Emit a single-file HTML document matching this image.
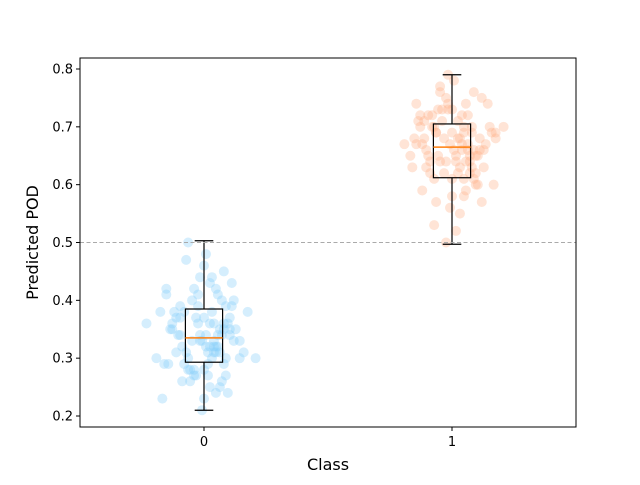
<!DOCTYPE html>
<html><head><meta charset="utf-8"><style>
body{margin:0;background:#fff}
svg text{font-family:"DejaVu Sans","Liberation Sans",sans-serif}
</style></head><body>
<svg id="chart" width="640" height="480" xmlns="http://www.w3.org/2000/svg">
<rect width="640" height="480" fill="#fff"/>
<g id="points"></g>
<g id="boxes"></g>
<g id="axes"></g>
</svg>
<script>
const categories=["0","1"];
const yTicks=[0.2,0.3,0.4,0.5,0.6,0.7,0.8];
const threshold=0.5;
const boxQ1=[0.293,0.612];
const boxMedian=[0.335,0.665];
const boxQ3=[0.385,0.705];
const whiskerLow=[0.21,0.497];
const whiskerHigh=[0.503,0.79];
const class0Values=[0.36,0.42,0.31,0.28,0.45,0.33,0.39,0.25,0.3,0.34,0.37,0.41,0.27,0.23,0.35,0.32,0.4,0.29,0.38,0.26,0.44,0.31,0.36,0.33,0.3,0.34,0.47,0.24,0.29,0.37,0.35,0.32,0.39,0.28,0.43,0.21,0.5,0.31,0.34,0.36,0.26,0.4,0.33,0.3,0.38,0.27,0.35,0.42,0.32,0.29,0.37,0.31,0.25,0.46,0.34,0.36,0.3,0.39,0.33,0.28,0.41,0.35,0.32,0.24,0.38,0.3,0.36,0.34,0.27,0.43,0.31,0.37,0.33,0.29,0.4,0.35,0.26,0.32,0.38,0.34,0.44,0.23,0.36,0.31,0.39,0.28,0.33,0.35,0.3,0.42,0.37,0.32,0.27,0.34,0.41,0.29,0.36,0.48,0.31,0.38];
const class0Jitter=[-0.29,-0.19,0.02,-0.05,0.1,0.05,-0.12,0.03,-0.08,0.13,0.0,-0.03,0.11,-0.21,-0.16,0.07,0.15,-0.1,0.04,0.09,-0.02,-0.14,0.12,-0.06,0.18,0.01,-0.09,0.06,-0.18,-0.04,0.08,-0.11,0.14,0.0,0.03,-0.01,-0.08,0.2,-0.13,0.05,-0.07,0.09,-0.02,0.11,-0.15,0.02,0.16,-0.05,0.06,-0.2,0.13,-0.09,0.08,0.0,-0.12,0.1,0.04,-0.03,0.15,-0.07,0.07,-0.17,0.01,0.12,-0.1,-0.24,0.03,0.09,-0.04,0.14,0.06,-0.14,0.18,0.02,-0.06,0.1,-0.11,0.05,0.22,-0.02,0.04,0.0,-0.16,0.08,0.11,-0.08,-0.01,0.13,0.26,0.06,-0.12,0.03,-0.05,0.07,-0.19,0.1,-0.03,0.01,0.05,-0.22];
const class1Values=[0.65,0.7,0.62,0.68,0.74,0.59,0.66,0.72,0.63,0.69,0.76,0.6,0.67,0.64,0.71,0.57,0.68,0.73,0.66,0.61,0.7,0.65,0.78,0.63,0.69,0.55,0.67,0.72,0.64,0.75,0.62,0.68,0.66,0.7,0.58,0.73,0.65,0.61,0.69,0.67,0.74,0.63,0.71,0.66,0.6,0.68,0.64,0.77,0.53,0.7,0.65,0.72,0.62,0.67,0.69,0.59,0.74,0.66,0.63,0.71,0.68,0.64,0.76,0.61,0.7,0.65,0.57,0.73,0.67,0.62,0.69,0.66,0.72,0.6,0.75,0.64,0.68,0.63,0.7,0.52,0.67,0.71,0.65,0.74,0.58,0.69,0.66,0.73,0.62,0.68,0.79,0.64,0.7,0.61,0.67,0.5,0.72,0.65,0.69,0.56];
const class1Jitter=[0.02,-0.1,0.12,-0.04,0.07,-0.15,0.05,-0.12,0.16,0.0,-0.06,0.21,-0.18,0.09,0.03,-0.08,0.14,-0.02,-0.13,0.06,0.19,-0.07,0.01,-0.2,0.1,0.04,-0.24,0.08,-0.03,0.15,-0.11,0.22,0.11,-0.16,0.0,-0.05,0.13,-0.09,0.06,-0.01,0.18,0.04,-0.14,0.08,0.12,-0.19,0.02,-0.06,-0.09,0.1,-0.12,0.05,-0.04,0.17,-0.08,0.07,-0.02,0.14,0.1,-0.17,0.03,-0.11,0.11,0.0,0.06,-0.21,0.15,-0.07,-0.15,0.09,0.2,0.01,-0.1,0.13,-0.03,-0.06,0.04,-0.13,0.26,0.02,0.08,-0.05,0.12,-0.18,0.06,-0.08,0.16,0.0,0.03,-0.14,-0.02,0.07,-0.09,0.11,0.05,-0.03,-0.16,0.09,0.22,-0.01];

const NS="http://www.w3.org/2000/svg";
const L=80,R=576,T=58,B=427;
function xs(v){return L+(v+0.5)/2*(R-L);}
function ys(v){return 416-(v-0.2)/0.6*(416-69);}
function mk(tag,attrs,parent,text){const e=document.createElementNS(NS,tag);for(const k in attrs)e.setAttribute(k,attrs[k]);if(text!==undefined)e.textContent=text;parent.appendChild(e);return e;}

const pts=document.getElementById('points');
const series=[[class0Values,class0Jitter,"#87cefa"],[class1Values,class1Jitter,"#ffb38a"]];
series.forEach((s,ci)=>{
  s[0].forEach((v,i)=>{
    const c=mk('circle',{cx:xs(ci+s[1][i]*0.8),cy:ys(v),r:5,fill:s[2],'fill-opacity':0.35},pts);
    
    
  });
});

const bx=document.getElementById('boxes');
categories.forEach((c,i)=>{
  const g=mk('g',{},bx);
  
  
  const cx=xs(i),hw=0.075*248,cw=0.0375*248;
  mk('line',{x1:cx,x2:cx,y1:ys(whiskerLow[i]),y2:ys(boxQ1[i]),stroke:'#000','stroke-width':1.2},g);
  mk('line',{x1:cx,x2:cx,y1:ys(boxQ3[i]),y2:ys(whiskerHigh[i]),stroke:'#000','stroke-width':1.2},g);
  mk('line',{x1:cx-cw,x2:cx+cw,y1:ys(whiskerLow[i]),y2:ys(whiskerLow[i]),stroke:'#000','stroke-width':1.2},g);
  mk('line',{x1:cx-cw,x2:cx+cw,y1:ys(whiskerHigh[i]),y2:ys(whiskerHigh[i]),stroke:'#000','stroke-width':1.2},g);
  mk('rect',{x:cx-hw,y:ys(boxQ3[i]),width:2*hw,height:ys(boxQ1[i])-ys(boxQ3[i]),fill:'none',stroke:'#000','stroke-width':1.2},g);
  mk('line',{x1:cx-hw,x2:cx+hw,y1:ys(boxMedian[i]),y2:ys(boxMedian[i]),stroke:'#ff7f0e','stroke-width':1.5},g);
});

const ax=document.getElementById('axes');
const th=mk('line',{x1:L,x2:R,y1:ys(threshold),y2:ys(threshold),stroke:'#aaa','stroke-width':1,'stroke-dasharray':'4,2.5'},ax);

const fr=mk('rect',{x:L,y:T,width:R-L,height:B-T,fill:'none',stroke:'#000','stroke-width':1},ax);

yTicks.forEach(t=>{
  mk('line',{x1:L-4,x2:L,y1:ys(t),y2:ys(t),stroke:'#000'},ax);
  const tx=mk('text',{x:L-7,y:ys(t)+4.5,'text-anchor':'end','font-size':13},ax,t.toFixed(1));
  
});
categories.forEach((c,i)=>{
  mk('line',{x1:xs(i),x2:xs(i),y1:B,y2:B+4,stroke:'#000'},ax);
  const tx=mk('text',{x:xs(i),y:B+19,'text-anchor':'middle','font-size':13},ax,c);
  
});
const xt=mk('text',{x:(L+R)/2,y:470,'text-anchor':'middle','font-size':16},ax,'Class');

const yt=mk('text',{x:0,y:0,'text-anchor':'middle','font-size':16,transform:'translate(38,'+((T+B)/2)+') rotate(-90)'},ax,'Predicted POD');

</script>
</body></html>
